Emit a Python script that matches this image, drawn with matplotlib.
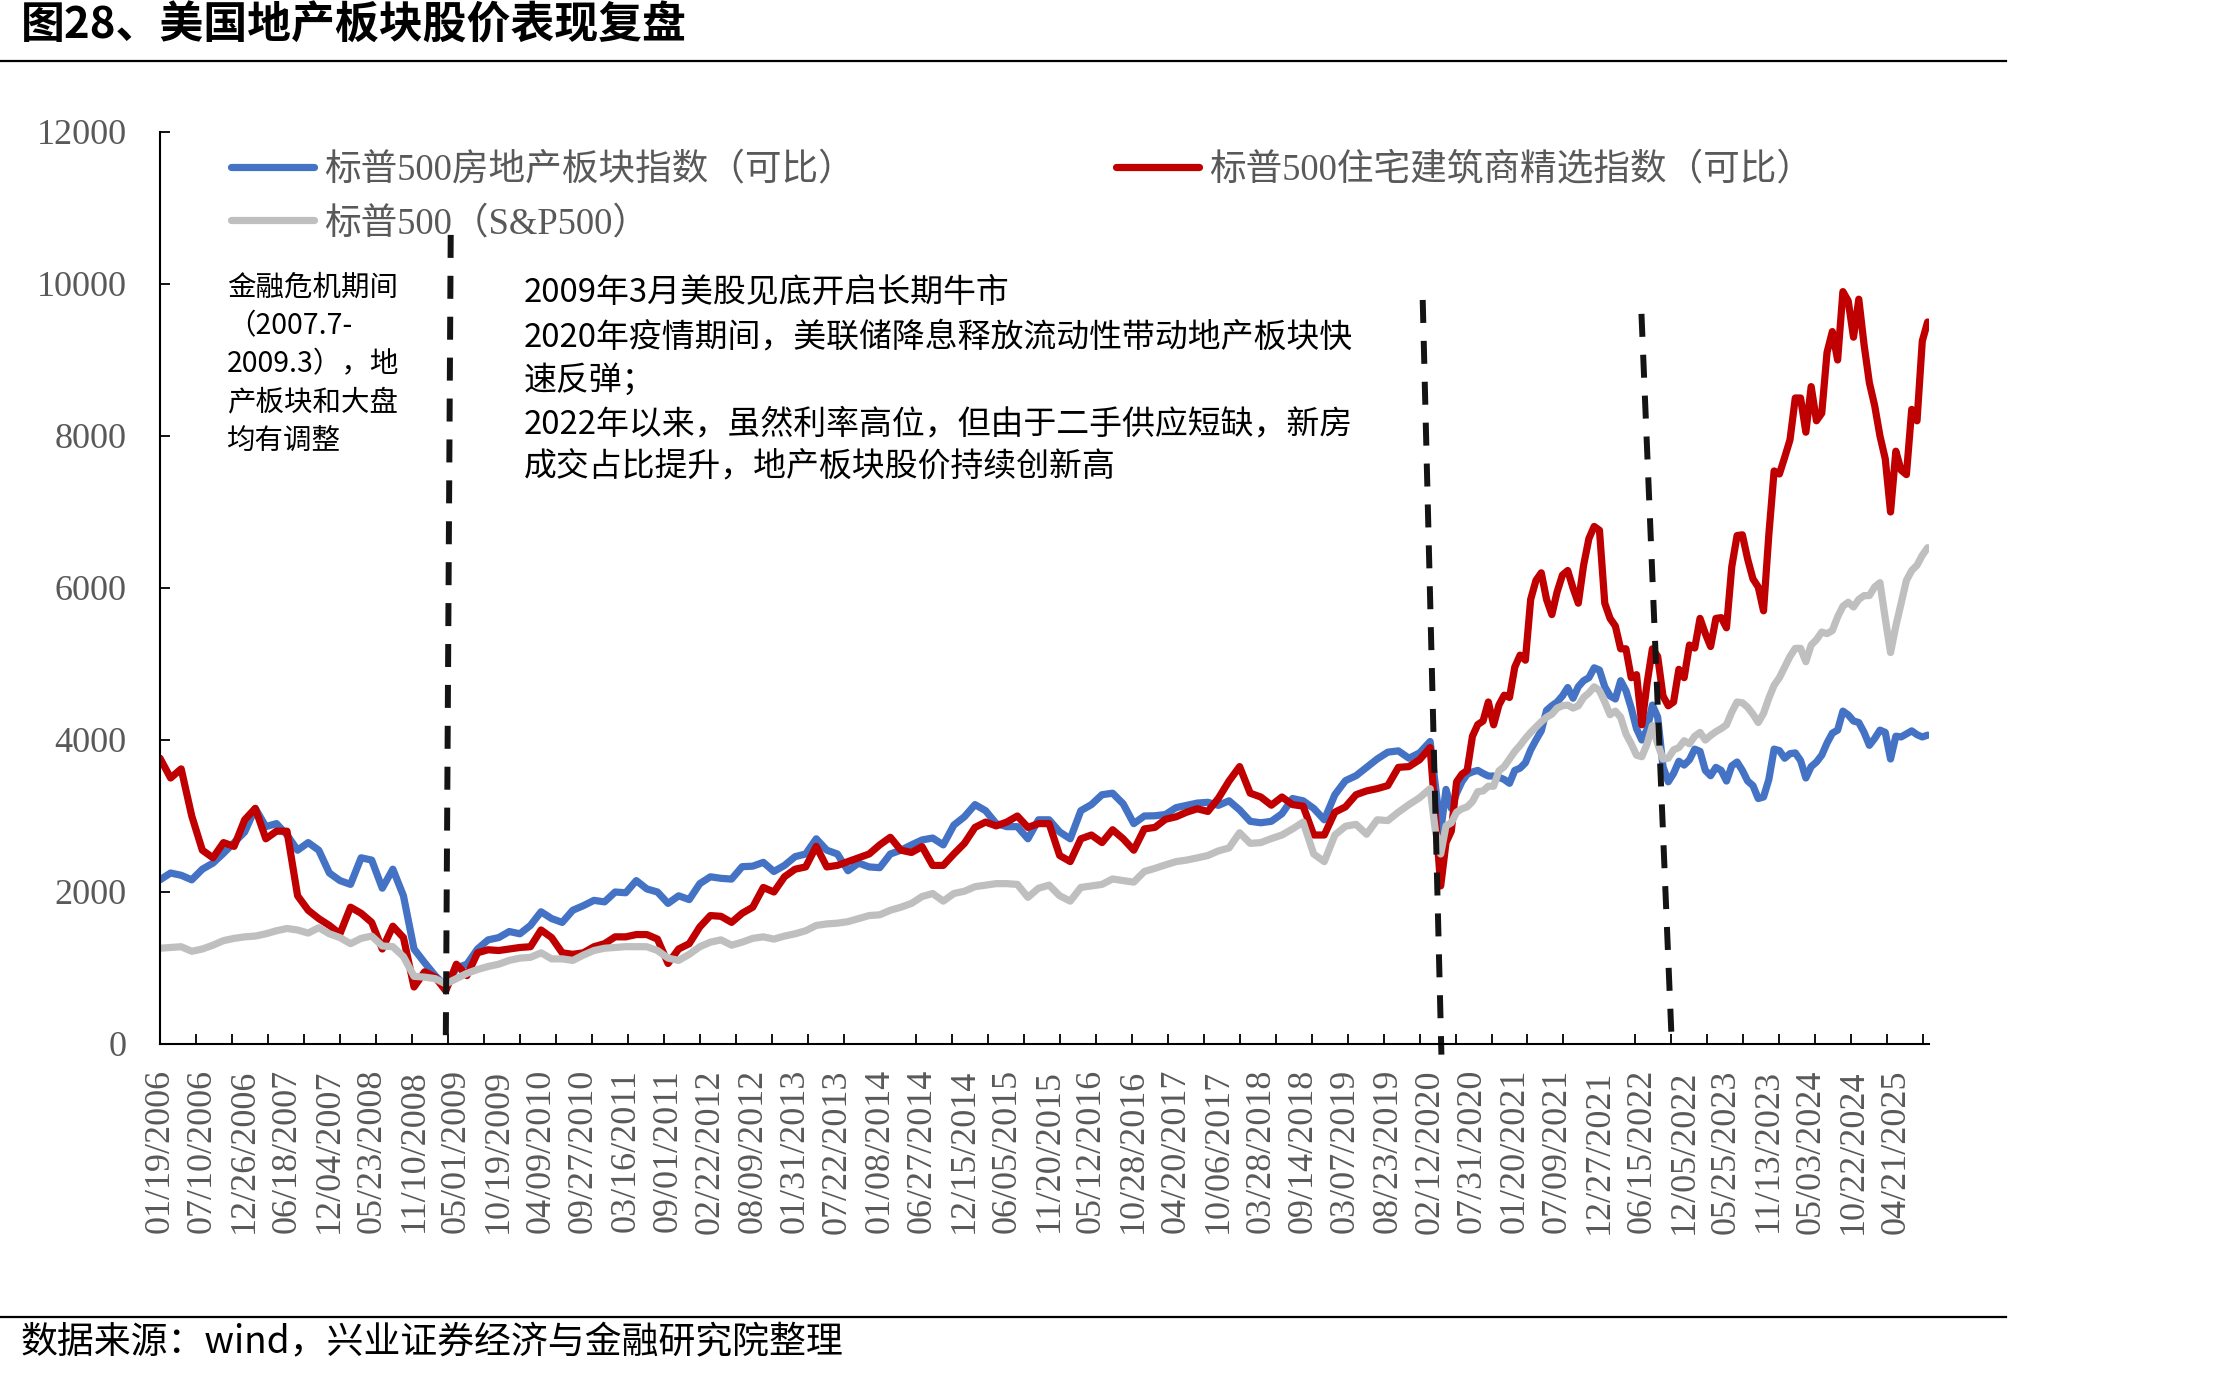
import numpy as np
import matplotlib
matplotlib.use("Agg")
import matplotlib.pyplot as plt
from matplotlib.lines import Line2D
from matplotlib.font_manager import FontProperties

# ---------------- data ----------------
# trading-day index of each sample: every 30 days up to 02/2020, then every 15 days
sample_index = np.concatenate([np.arange(0, 3600, 30), np.arange(3600, 5011, 15)])
LABEL_EVERY = 120
TICK_EVERY = 102

tick_labels = [
    "01/19/2006", "07/10/2006", "12/26/2006", "06/18/2007", "12/04/2007", "05/23/2008",
    "11/10/2008", "05/01/2009", "10/19/2009", "04/09/2010", "09/27/2010", "03/16/2011",
    "09/01/2011", "02/22/2012", "08/09/2012", "01/31/2013", "07/22/2013", "01/08/2014",
    "06/27/2014", "12/15/2014", "06/05/2015", "11/20/2015", "05/12/2016", "10/28/2016",
    "04/20/2017", "10/06/2017", "03/28/2018", "09/14/2018", "03/07/2019", "08/23/2019",
    "02/12/2020", "07/31/2020", "01/20/2021", "07/09/2021", "12/27/2021", "06/15/2022",
    "12/05/2022", "05/25/2023", "11/13/2023", "05/03/2024", "10/22/2024", "04/21/2025",
]

real_estate = [
    2160, 2250, 2220, 2160, 2300, 2380, 2510, 2650, 2790, 3100, 2860, 2900, 2750, 2550, 2650,
    2550, 2250, 2150, 2100, 2450, 2420, 2050, 2300, 1950, 1250, 1070, 900, 760, 1000, 1050,
    1250, 1370, 1400, 1480, 1450, 1560, 1740, 1650, 1600, 1760, 1820, 1890, 1870,
    2000, 1990, 2150, 2040, 2000, 1850, 1950, 1900, 2110, 2200, 2180, 2170, 2333, 2340, 2390,
    2270, 2350, 2465, 2500, 2700, 2550, 2500, 2280, 2380, 2330, 2320, 2500, 2550, 2620, 2685,
    2710, 2620, 2880, 2990, 3150, 3070, 2900, 2860, 2860, 2700, 2950, 2950,
    2790, 2700, 3070, 3150, 3280, 3300, 3160, 2900, 3000, 3003, 3020, 3110, 3140, 3170, 3180,
    3140, 3200, 3080, 2930, 2911, 2930, 3030, 3230, 3200, 3100, 2950, 3280, 3465, 3530, 3640,
    3750, 3840, 3857, 3760, 3830,
    3980, 3400, 2800, 3350, 3100, 3300, 3450, 3550, 3580, 3600, 3560, 3526, 3526, 3510, 3480,
    3430, 3600, 3630, 3700, 3870, 4000, 4120, 4390, 4450, 4500, 4580, 4690, 4550, 4702, 4780,
    4820, 4950, 4920, 4700, 4580, 4540, 4780, 4650, 4420, 4150, 4000, 4140, 4460, 4300, 3650,
    3450, 3560, 3720, 3670, 3740, 3880, 3850, 3600, 3530, 3640, 3600, 3460, 3660, 3710, 3600,
    3460, 3400, 3230, 3250, 3480, 3880, 3860, 3760, 3820, 3830, 3730, 3500, 3650, 3710, 3800,
    3960, 4090, 4130, 4380, 4330, 4250, 4230, 4100, 3930, 4020, 4130, 4100, 3750, 4050, 4040,
    4080, 4120, 4070, 4040, 4064,
]

homebuilders = [
    3760, 3500, 3620, 3000, 2550, 2450, 2650, 2600, 2950, 3100, 2700, 2800, 2800, 1950, 1760,
    1650, 1560, 1450, 1800, 1720, 1600, 1250, 1550, 1400, 750, 950, 880, 700, 1050, 900,
    1200, 1240, 1230, 1250, 1270, 1280, 1500, 1400, 1200, 1180, 1200, 1280, 1320,
    1410, 1410, 1440, 1440, 1380, 1060, 1250, 1320, 1540, 1690, 1680, 1600, 1720, 1800, 2060,
    2000, 2200, 2300, 2330, 2600, 2330, 2350, 2400, 2450, 2500, 2620, 2720, 2550, 2520, 2597,
    2350, 2350, 2500, 2640, 2850, 2920, 2870, 2920, 3000, 2850, 2900, 2900,
    2480, 2400, 2700, 2750, 2650, 2819, 2700, 2550, 2830, 2850, 2957, 2990, 3050, 3095, 3060,
    3234, 3460, 3650, 3300, 3250, 3142, 3250, 3150, 3130, 2750, 2750, 3050, 3120, 3280, 3330,
    3360, 3400, 3640, 3650, 3740,
    3900, 3000, 2080, 2650, 2800, 3450, 3550, 3600, 4050, 4203, 4250, 4500, 4200, 4460, 4590,
    4560, 4960, 5117, 5050, 5850, 6100, 6200, 5850, 5650, 5950, 6170, 6230, 6000, 5800, 6300,
    6650, 6810, 6760, 5800, 5600, 5500, 5200, 5200, 4820, 4860, 4200, 4750, 5200, 5100, 4580,
    4450, 4500, 4930, 4820, 5250, 5210, 5600, 5400, 5230, 5600, 5610, 5476, 6281, 6690, 6700,
    6380, 6120, 6013, 5700, 6700, 7540, 7500, 7720, 7950, 8500, 8500, 8050, 8650, 8200, 8300,
    9100, 9374, 9000, 9900, 9777, 9300, 9800, 9200, 8700, 8400, 8000, 7700, 7000, 7800, 7550,
    7492, 8350, 8200, 9250, 9500,
]

sp500 = [
    1260, 1270, 1280, 1220, 1250, 1300, 1360, 1390, 1410, 1420, 1450, 1490, 1520, 1500, 1460,
    1530, 1450, 1400, 1320, 1390, 1420, 1290, 1280, 1150, 890, 880, 860, 790, 860, 930,
    980, 1020, 1050, 1100, 1130, 1140, 1200, 1120, 1120, 1100, 1170, 1230, 1260,
    1270, 1281, 1281, 1280, 1230, 1130, 1100, 1180, 1280, 1340, 1370, 1300, 1340, 1390, 1410,
    1380, 1420, 1450, 1490, 1560, 1580, 1590, 1610, 1650, 1690, 1700, 1760, 1800, 1850, 1940,
    1980, 1880, 1980, 2010, 2070, 2090, 2110, 2110, 2100, 1930, 2050, 2090,
    1950, 1880, 2060, 2080, 2100, 2172, 2150, 2130, 2270, 2311, 2357, 2400, 2420, 2449, 2480,
    2541, 2580, 2780, 2640, 2650, 2703, 2750, 2830, 2920, 2500, 2400, 2750, 2865, 2890, 2760,
    2950, 2940, 3050, 3150, 3240,
    3360, 2800, 2500, 2870, 2910, 3050, 3095, 3120, 3190, 3320, 3330, 3392, 3392, 3593, 3650,
    3750, 3850, 3929, 4020, 4100, 4170, 4240, 4300, 4340, 4420, 4450, 4460, 4420, 4450, 4560,
    4620, 4700, 4650, 4500, 4333, 4380, 4300, 4080, 3950, 3800, 3780, 3950, 4190, 3950, 3750,
    3760, 3870, 3900, 3990, 3950, 4050, 4100, 4000, 4060, 4110, 4150, 4200, 4367, 4500, 4490,
    4430, 4340, 4230, 4350, 4550, 4720, 4820, 4960, 5100, 5206, 5206, 5030, 5250, 5320, 5420,
    5400, 5440, 5620, 5760, 5812, 5750, 5850, 5900, 5900, 6013, 6070, 5600, 5150, 5500, 5800,
    6100, 6230, 6300, 6430, 6530,
]

series_names = ["标普500房地产板块指数（可比）", "标普500住宅建筑商精选指数（可比）", "标普500（S&P500）"]

# annotation dashed lines: (x_top, y_top, x_bottom, y_bottom) in data units
guide_lines = [(824, 10646, 810, 0), (3579, 9790, 3632, -140), (4199, 9607, 4285, 0)]

left_note = ["金融危机期间", "（2007.7-", "2009.3），地", "产板块和大盘", "均有调整"]
right_note = [
    "2009年3月美股见底开启长期牛市",
    "2020年疫情期间，美联储降息释放流动性带动地产板块快",
    "速反弹；",
    "2022年以来，虽然利率高位，但由于二手供应短缺，新房",
    "成交占比提升，地产板块股价持续创新高",
]

# ---------------- figure ----------------
W, H = 2221, 1377
fig = plt.figure(figsize=(W / 100, H / 100), dpi=100)


def fx(x):
    return x / W


def fy(y):
    return 1 - y / H


ax = fig.add_axes([fx(160), fy(1044), fx(1929) - fx(160), fy(132) - fy(1044)])

BLUE, RED, GRAY = "#4472C4", "#C00000", "#BFBFBF"
TXT = "#595959"
serif_cjk = ["Liberation Serif", "Noto Sans CJK SC"]
LW = 5.2

l1, = ax.plot(sample_index, real_estate, color=BLUE, lw=LW, solid_joinstyle="round", solid_capstyle="round")
l2, = ax.plot(sample_index, homebuilders, color=RED, lw=LW, solid_joinstyle="round", solid_capstyle="round")
l3, = ax.plot(sample_index, sp500, color=GRAY, lw=LW, solid_joinstyle="round", solid_capstyle="round")

for xt, yt, xb, yb in guide_lines:
    ln, = ax.plot([xt, xb], [yt, yb], color="#141414", lw=4.3, clip_on=False,
                  dash_capstyle="butt")
    ln.set_dashes((3.85, 3.0))

ax.set_xlim(0, 5014)
ax.set_ylim(0, 12000)
for s in ["top", "right"]:
    ax.spines[s].set_visible(False)
for s in ["left", "bottom"]:
    ax.spines[s].set_linewidth(1.5)
    ax.spines[s].set_color("#000000")

ax.set_yticks(np.arange(0, 12001, 2000))
ax.set_yticklabels([str(v) for v in range(0, 12001, 2000)],
                   fontproperties=FontProperties(family="Liberation Serif", size=26), color=TXT)
ax.tick_params(axis="y", direction="in", length=7, width=1.3, pad=24)

ax.set_xticks(np.arange(len(tick_labels)) * LABEL_EVERY)
ax.set_xticklabels(tick_labels, rotation=90,
                   fontproperties=FontProperties(family="Liberation Serif", size=26), color=TXT)
ax.tick_params(axis="x", which="major", length=0, pad=18)
ax.set_xticks(np.arange(0, 5014, TICK_EVERY), minor=True)
ax.tick_params(axis="x", which="minor", direction="in", length=7, width=1.3)

leg_prop = FontProperties(family=serif_cjk, size=26.4)
leg1 = ax.legend([l1, l3], [series_names[0], series_names[2]], loc="upper left",
                 bbox_to_anchor=(fx(231), fy(153)), bbox_transform=fig.transFigure,
                 prop=leg_prop, labelcolor=TXT, frameon=False, handlelength=2.26,
                 handletextpad=0.27, borderpad=0, borderaxespad=0, labelspacing=0.5)
ax.add_artist(leg1)
leg2 = ax.legend([l2], [series_names[1]], loc="upper left",
                 bbox_to_anchor=(fx(1116), fy(153)), bbox_transform=fig.transFigure,
                 prop=leg_prop, labelcolor=TXT, frameon=False, handlelength=2.26,
                 handletextpad=0.27, borderpad=0, borderaxespad=0)

# annotation texts
for line, yc in zip(left_note, [288, 326, 364, 402, 441]):
    fig.text(fx(227), fy(yc), line, fontsize=20.5, family=["Noto Sans CJK SC"],
             va="center", ha="left", color="black")
for line, yc in zip(right_note, [293, 337, 380, 424, 467]):
    fig.text(fx(524), fy(yc), line, fontsize=23.7, family=["Noto Sans CJK SC"],
             va="center", ha="left", color="black")

# title, source and rules
fig.text(fx(21), fy(26), "图28、美国地产板块股价表现复盘", fontsize=31.6, fontweight="bold",
         family=["Noto Sans CJK SC"], va="center", ha="left", color="black")
fig.text(fx(21), fy(1343), "数据来源：wind，兴业证券经济与金融研究院整理", fontsize=26.6,
         family=["Noto Sans CJK SC"], va="center", ha="left", color="black")
fig.add_artist(Line2D([0, fx(2006)], [fy(61), fy(61)], color="black", lw=1.6))
fig.add_artist(Line2D([0, fx(2006)], [fy(1317), fy(1317)], color="black", lw=1.6))

fig.savefig("out.png", dpi=100)
